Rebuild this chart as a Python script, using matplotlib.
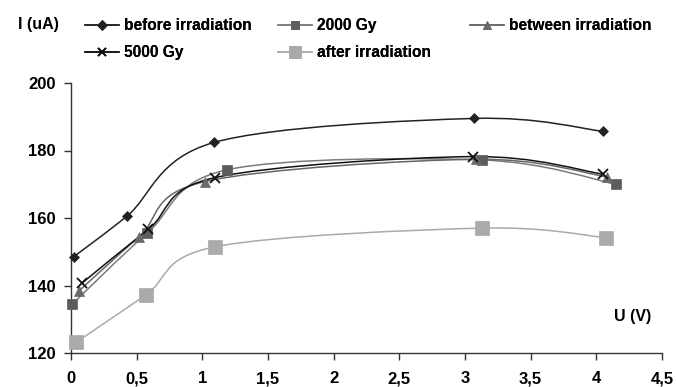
import numpy as np
import matplotlib
matplotlib.use("Agg")
import matplotlib.pyplot as plt
from matplotlib.path import Path
from matplotlib.patches import PathPatch
from matplotlib.lines import Line2D

plt.rcParams['font.family'] = ['Liberation Sans', 'DejaVu Sans']

series_names = ["before irradiation", "2000 Gy", "between irradiation", "5000 Gy", "after irradiation"]

x_before = [0.02, 0.43, 1.09, 3.07, 4.05]
y_before = [148.5, 160.7, 182.4, 189.5, 185.7]

x_2000 = [0.01, 0.58, 1.19, 3.13, 4.15]
y_2000 = [134.5, 155.5, 174.3, 177.2, 170.0]

x_between = [0.06, 0.52, 1.02, 3.08, 4.08]
y_between = [138.4, 154.5, 170.8, 177.4, 172.2]

x_5000 = [0.08, 0.59, 1.10, 3.06, 4.05]
y_5000 = [140.6, 156.7, 172.0, 178.2, 173.0]

x_after = [0.04, 0.57, 1.10, 3.13, 4.07]
y_after = [123.2, 137.2, 151.5, 157.0, 154.2]

x_ticks = [0, 0.5, 1, 1.5, 2, 2.5, 3, 3.5, 4, 4.5]
x_ticklabels = ["0", "0,5", "1", "1,5", "2", "2,5", "3", "3,5", "4", "4,5"]
y_ticks = [120, 140, 160, 180, 200]

W, H = 677, 387

styles = [
    dict(color="#222222", marker="D", ms=5.5, mfc="#222222", mec="#222222", lw=1.1),
    dict(color="#7a7a7a", marker="s", ms=6.5, mfc="#5c5c5c", mec="#5c5c5c", lw=1.1),
    dict(color="#666666", marker="^", ms=7.5, mfc="#6a6a6a", mec="#6a6a6a", lw=1.1),
    dict(color="#111111", marker="x", ms=7, mfc="#111111", mec="#111111", lw=1.1),
    dict(color="#aaaaaa", marker="s", ms=10, mfc="#aaaaaa", mec="#aaaaaa", lw=1.1),
]

fig = plt.figure(figsize=(W/100, H/100), dpi=100)
ax = fig.add_axes([71/W, 1-353/H, (662-71)/W, (353-83)/H])


def smooth_path(xs, ys):
    pts = list(zip(xs, ys))
    n = len(pts)
    verts = [pts[0]]
    codes = [Path.MOVETO]
    for i in range(n - 1):
        p0 = pts[i - 1] if i > 0 else pts[i]
        p1 = pts[i]
        p2 = pts[i + 1]
        p3 = pts[i + 2] if i + 2 < n else pts[i + 1]
        c1 = (p1[0] + (p2[0] - p0[0]) / 6, p1[1] + (p2[1] - p0[1]) / 6)
        c2 = (p2[0] - (p3[0] - p1[0]) / 6, p2[1] - (p3[1] - p1[1]) / 6)
        verts += [c1, c2, p2]
        codes += [Path.CURVE4] * 3
    return Path(verts, codes)


data = [(x_before, y_before), (x_2000, y_2000), (x_between, y_between),
        (x_5000, y_5000), (x_after, y_after)]
handles = []
for (xs, ys), st, name in zip(data, styles, series_names):
    ax.add_patch(PathPatch(smooth_path(xs, ys), fc="none", ec=st["color"], lw=st["lw"], zorder=2))
    mew = 1.3 if st["marker"] == "x" else 0.5
    ax.plot(xs, ys, ls="none", marker=st["marker"], ms=st["ms"], mfc=st["mfc"],
            mec=st["mec"], mew=mew, zorder=3, clip_on=False)
    handles.append(Line2D([], [], color=st["color"], lw=st["lw"], marker=st["marker"],
                          ms=st["ms"] * 0.85, mfc=st["mfc"], mec=st["mec"],
                          mew=mew, label=name))

ax.set_xlim(0, 4.5)
ax.set_ylim(120, 200)
ax.set_xticks(x_ticks)
ax.set_xticklabels(x_ticklabels)
ax.set_yticks(y_ticks)
for s in ["top", "right"]:
    ax.spines[s].set_visible(False)
for s in ["left", "bottom"]:
    ax.spines[s].set_color("#333333")
    ax.spines[s].set_linewidth(1.0)
ax.tick_params(axis="both", direction="out", length=5, width=1, color="#333333",
               labelsize=12)
ax.tick_params(axis="x", pad=8)
ax.tick_params(axis="y", pad=6)
for lab in ax.get_xticklabels() + ax.get_yticklabels():
    lab.set_fontweight("bold")

fig.text(614/W, 1-316/H, "U (V)", fontsize=11.5, fontweight="bold", ha="left", va="center")
fig.text(18/W, 1-25/H, "I (uA)", fontsize=11.5, fontweight="bold", ha="left", va="center")

columns = [([0, 3], 85), ([1, 4], 278), ([2], 470)]
for idx, xpix in columns:
    leg = fig.legend([handles[i] for i in idx], [series_names[i] for i in idx],
                     loc="upper left", bbox_to_anchor=(xpix/W, 1-18/H),
                     frameon=False, prop=dict(weight="bold", size=11.2),
                     handlelength=2.2, handletextpad=0.3,
                     labelspacing=0.8, borderaxespad=0, borderpad=0)
    fig.add_artist(leg)

fig.savefig("out.png", dpi=100)
